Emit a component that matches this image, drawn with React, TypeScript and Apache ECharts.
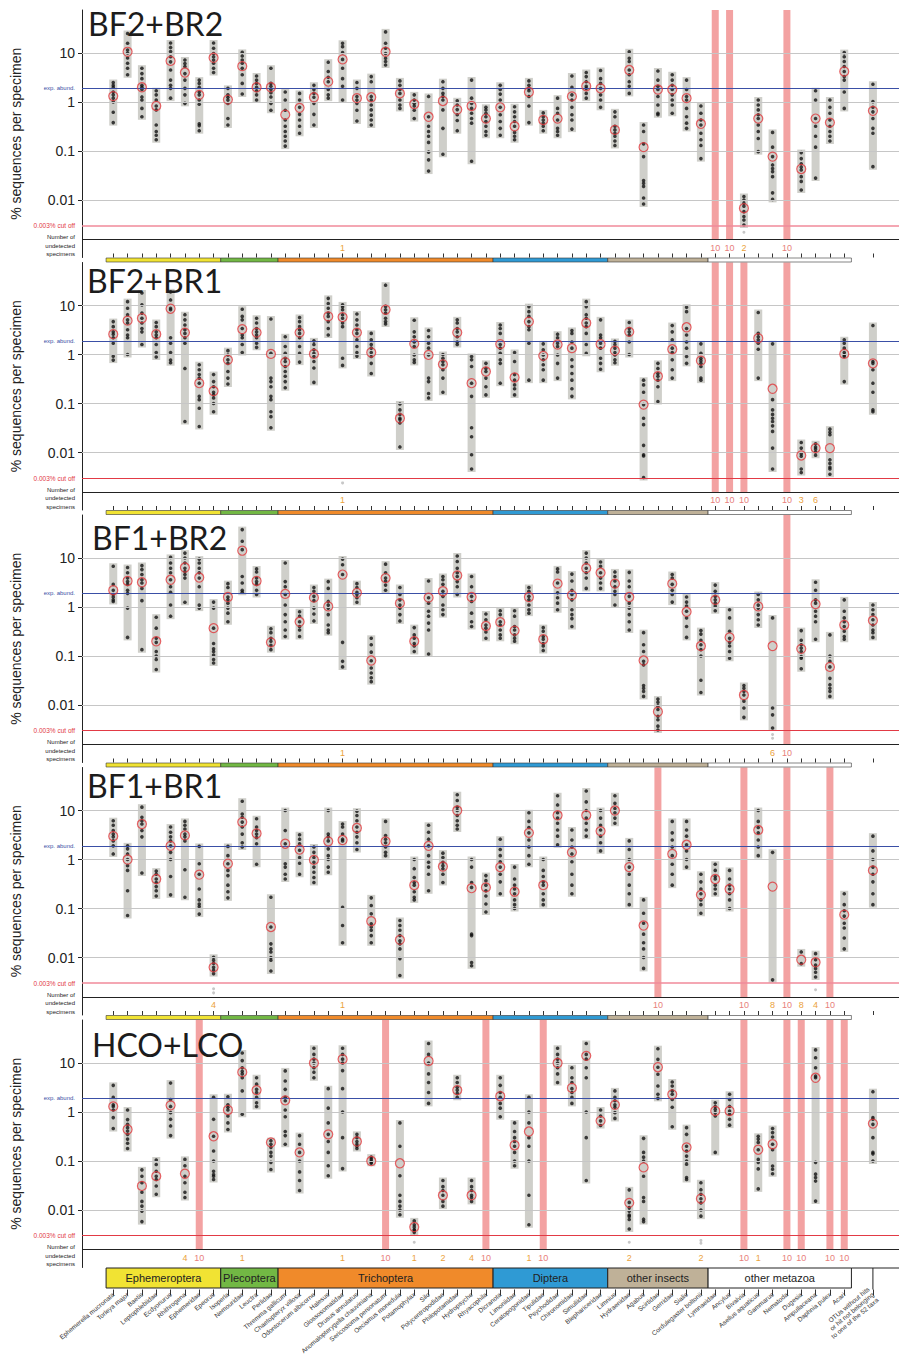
import React, { useEffect, useRef } from 'react';
import * as echarts from 'echarts';

// ---------- categories ----------
const taxa: string[] = [
  'Ephemerella mucronata', 'Torleya major', 'Baetis', 'Leptophlebiidae', 'Ecdyonurus', 'Rhithrogena', 'Ephemeridae', 'Epeorus',
  'Isoperla', 'Nemouridae', 'Leuctra', 'Perlidae',
  'Thremma gallicum', 'Chaetopteryx villosa', 'Odontocerum albicorne', 'Halesus', 'Glossosomatidae', 'Drusus annulatus',
  'Anomalopterygella chauviniana', 'Sericostoma personatum', 'Oecismus monedula', 'Potamophylax', 'Silo', 'Polycentropodidae',
  'Philopotamidae', 'Hydropsyche', 'Rhyacophila',
  'Dicranota', 'Limoniidae', 'Ceratopogonidae', 'Tipulidae', 'Psychodidae', 'Chironomidae', 'Simuliidae', 'Blephariceridae',
  'Limnius', 'Hydraenidae', 'Agabus', 'Scirtidae', 'Gerridae', 'Sialis', 'Cordulegaster boltonii',
  'Lymnaeidae', 'Ancylus', 'Bivalvia', 'Asellus aquaticus', 'Gammarus', 'Nematoda', 'Dugesia', 'Ampullaceana', 'Daphnia pulex', 'Acari',
  '', 'OTUs without hits\nor hit not belonging\nto one of the 52 taxa',
];
const groupNames = ['Ephemeroptera', 'Plecoptera', 'Trichoptera', 'Diptera', 'other insects', 'other metazoa'];
const groupStart = [0, 8, 12, 27, 35, 42];
const groupEnd = [7, 11, 26, 34, 41, 51];
const groupColors = ['#f1e333', '#72b844', '#f08a2a', '#2f9ad4', '#bfb198', '#ffffff'];

const panelTitles = ['BF2+BR2', 'BF2+BR1', 'BF1+BR2', 'BF1+BR1', 'HCO+LCO'];
const expectedAbundance = 100 / 52; // % per specimen
const cutOff = 0.003; // %
const yTickValues = [10, 1, 0.1, 0.01];

// ---------- BF2+BR2 ----------
const bf2br2Dots: number[][] = [
  [2.5, 2.2, 2.0, 1.6, 1.4, 1.2, 1.0, 0.62, 0.38], [25, 15.8, 11.5, 10, 7.9, 6.2, 4.9, 3.6], [4.9, 3.8, 3.0, 2.2, 2.0, 1.8, 1.27, 1.1, 0.74, 0.5],
  [1.7, 1.4, 1.1, 0.83, 0.69, 0.34, 0.25, 0.21, 0.17], [16, 13, 10.7, 8.4, 6.6, 4.5, 2.8, 2.2, 1.9, 1.2], [7.2, 6.1, 5.3, 3.8, 2.8, 1.9, 1.4, 0.94],
  [2.8, 2.4, 2.0, 1.6, 1.4, 1.1, 0.9, 0.36, 0.33, 0.26], [16, 12.5, 9.8, 8.4, 7.2, 6.2, 4.9, 4.0], [1.9, 1.4, 1.25, 1.1, 0.94, 0.46, 0.34],
  [10.3, 8.7, 7.2, 6.2, 4.9, 3.6, 2.4, 1.46], [3.4, 2.8, 2.4, 2.0, 1.7, 1.4, 1.1], [4.9, 2.4, 2.1, 1.8, 1.55, 1.27, 0.94, 0.68],
  [1.6, 1.1, 0.68, 0.43, 0.32, 0.25, 0.2, 0.16, 0.126], [1.5, 1.1, 0.78, 0.56, 0.43, 0.32, 0.23], [2.2, 1.8, 1.5, 1.25, 0.94, 0.56, 0.34],
  [6.5, 4.2, 3.2, 2.6, 1.8, 1.4, 1.2], [15.8, 13.5, 10.2, 7.4, 4.9, 3.0, 2.1, 1.1], [2.5, 1.9, 1.3, 1.1, 0.94, 0.68, 0.41],
  [3.3, 2.6, 1.3, 1.1, 0.87, 0.69, 0.54, 0.43, 0.34], [27, 15.8, 12.5, 9.8, 7.8, 6.7, 5.7], [2.7, 2.2, 1.8, 1.5, 1.1, 0.87, 0.74],
  [1.4, 1.1, 0.94, 0.83, 0.68, 0.46], [1.3, 0.5, 0.32, 0.25, 0.2, 0.15, 0.095, 0.066, 0.039], [2.6, 1.9, 1.5, 1.3, 1.1, 0.69, 0.29, 0.086],
  [1.06, 0.87, 0.7, 0.55, 0.42, 0.26], [2.8, 1.2, 0.94, 0.74, 0.59, 0.46, 0.37, 0.062], [0.78, 0.69, 0.59, 0.5, 0.4, 0.32, 0.25, 0.21],
  [2.2, 1.8, 1.45, 1.1, 0.78, 0.55, 0.4, 0.29, 0.21], [0.8, 0.63, 0.5, 0.4, 0.32, 0.24, 0.2, 0.17], [2.7, 2.2, 1.9, 1.7, 1.3, 0.83, 0.38],
  [0.6, 0.5, 0.43, 0.37, 0.32, 0.26], [1.2, 0.74, 0.59, 0.43, 0.29, 0.25, 0.21], [3.4, 2.0, 1.4, 1.1, 0.78, 0.55, 0.43, 0.28],
  [4.0, 3.3, 2.6, 2.1, 1.9, 1.5, 1.2], [4.4, 3.0, 2.4, 1.9, 1.4, 1.1, 0.78], [0.63, 0.5, 0.32, 0.27, 0.23, 0.2, 0.16, 0.13],
  [10.6, 7.8, 6.7, 4.5, 3.6, 2.6, 2.1, 1.5], [0.34, 0.25, 0.14, 0.077, 0.025, 0.022, 0.019, 0.011, 0.0083], [4.3, 2.8, 2.1, 1.8, 1.3, 0.87, 0.59, 0.55],
  [3.6, 2.8, 2.2, 1.8, 1.4, 1.1, 0.87, 0.59], [2.8, 1.8, 1.3, 1.1, 0.74, 0.5, 0.37, 0.29], [0.83, 0.59, 0.43, 0.34, 0.23, 0.17, 0.13, 0.07],
  [], [], [0.0118, 0.01, 0.0086, 0.0075, 0.0058, 0.0046, 0.0039, 0.0031],
  [1.1, 0.87, 0.69, 0.55, 0.46, 0.34, 0.25, 0.18, 0.097], [0.24, 0.12, 0.077, 0.052, 0.044, 0.038, 0.03, 0.014, 0.0103], [],
  [0.093, 0.07, 0.055, 0.047, 0.041, 0.03, 0.024, 0.016], [1.7, 1.1, 0.46, 0.32, 0.2, 0.12, 0.028], [1.1, 0.78, 0.59, 0.43, 0.32, 0.25, 0.2, 0.16],
  [10.2, 8.4, 6.7, 5.3, 4.2, 3.3, 2.8, 1.6, 0.74], [], [2.3, 1.02, 0.78, 0.63, 0.46, 0.29, 0.23, 0.048],
];
const bf2br2Means: (number | null)[] = [
  1.32, 10.6, 2.0, 0.83, 6.9, 4.0, 1.4, 8.0, 1.12, 5.4,
  2.0, 2.0, 0.55, 0.76, 1.25, 2.6, 7.4, 1.2, 1.25, 10.6,
  1.5, 0.91, 0.5, 1.05, 0.7, 0.83, 0.46, 0.78, 0.32, 1.6,
  0.43, 0.46, 1.3, 2.1, 1.9, 0.27, 4.5, 0.12, 1.8, 1.8,
  1.2, 0.36, null, null, 0.0068, 0.46, 0.077, null, 0.043, 0.46,
  0.38, 4.2, null, 0.66,
];
const bf2br2Undetected: [number, number][] = [[16, 1], [42, 10], [43, 10], [44, 2], [47, 10]];
const bf2br2BelowCut: [number, number][] = [[44, 0.0022]];

// ---------- BF2+BR1 ----------
const bf2br1Dots: number[][] = [
  [4.7, 3.7, 2.9, 2.6, 2.2, 1.7, 0.92, 0.77], [12, 8.8, 6.5, 5.1, 4.4, 3.2, 2.5, 2.2, 1.0], [18, 10.3, 7, 5.5, 4.4, 3.4, 2.9, 1.6],
  [4.5, 3.7, 2.9, 2.5, 2.2, 1.6, 1.1, 0.89], [19, 13, 8.8, 8.2, 2.2, 1.7, 1.1, 0.77, 0.68], [6.5, 5.1, 4, 3.2, 2.7, 2.2, 1.7, 0.52, 0.043],
  [0.62, 0.49, 0.39, 0.33, 0.26, 0.14, 0.12, 0.08, 0.034], [0.39, 0.28, 0.22, 0.17, 0.15, 0.13, 0.1, 0.068], [1.2, 0.98, 0.78, 0.66, 0.45, 0.33, 0.25],
  [8.4, 6, 5.1, 3.4, 2.5, 2.2, 1.6, 1.1], [5.5, 4.4, 3.4, 2.9, 2.5, 2.2, 1.7, 1.4], [5.3, 1.06, 0.33, 0.28, 0.22, 0.14, 0.12, 0.068, 0.054, 0.032],
  [2.3, 1.46, 1.06, 0.84, 0.72, 0.57, 0.45, 0.36, 0.28, 0.21], [5.7, 4.7, 3.7, 3.2, 2.7, 2.2, 1.46, 1.06, 0.7], [1.9, 1.6, 1.25, 1.06, 0.91, 0.72, 0.53, 0.27],
  [14, 11, 8.8, 7, 6, 4.7, 3.4, 2.5], [10.3, 9.4, 8.2, 6.5, 5.5, 4.4, 3.7, 0.84, 0.6], [6.7, 5.1, 4, 3.2, 2.7, 2, 1.46, 1.1, 0.93],
  [2.7, 2, 1.6, 1.35, 1.1, 0.91, 0.66, 0.41], [26, 9.6, 8.2, 7, 5.5, 4.7, 4.2], [0.098, 0.074, 0.06, 0.05, 0.047, 0.04, 0.013],
  [5, 2.9, 2.3, 1.8, 1.46, 0.98, 0.78, 0.69], [3.1, 2.3, 1.7, 1.35, 0.98, 0.33, 0.28, 0.16, 0.13], [1.0, 0.84, 0.72, 0.62, 0.49, 0.33, 0.17],
  [5.1, 4.4, 3.4, 2.9, 2.3, 1.8, 1.6], [0.91, 0.78, 0.57, 0.26, 0.14, 0.032, 0.021, 0.009, 0.0046], [0.66, 0.52, 0.45, 0.33, 0.22, 0.15],
  [4, 3.4, 2.7, 1.6, 1.35, 1.06, 0.78, 0.66, 0.26], [1.1, 0.72, 0.39, 0.3, 0.24, 0.2, 0.15], [9.5, 7.5, 6, 4.7, 3.7, 3.2, 1.7, 0.3],
  [1.65, 1.25, 0.98, 0.78, 0.62, 0.49, 0.3], [2.6, 2.2, 1.7, 1.46, 0.98, 0.66, 0.33], [3.1, 2.7, 1.8, 1.35, 0.78, 0.57, 0.41, 0.3, 0.2, 0.14],
  [12, 9.5, 6.5, 5.5, 4.4, 3.7, 2.7, 1.6, 1.06], [5.1, 2.5, 2.2, 1.7, 1.35, 0.84, 0.66, 0.5], [1.85, 1.6, 1.35, 1.1, 0.98, 0.78, 0.68],
  [4.5, 3.4, 2.9, 2.5, 1.8, 1.0], [0.3, 0.24, 0.17, 0.095, 0.05, 0.037, 0.014, 0.009, 0.0085, 0.0031], [0.66, 0.52, 0.41, 0.36, 0.3, 0.22, 0.11],
  [3.9, 2.9, 2, 1.35, 1.1, 0.78, 0.49, 0.33], [9.2, 7.5, 3.4, 2.5, 1.8, 1.35, 0.91, 0.66], [1.65, 1.06, 0.84, 0.75, 0.66, 0.57, 0.33, 0.3],
  [], [], [],
  [7.2, 2.7, 2.3, 2, 1.7, 1.28, 0.33], [1.65, 0.12, 0.074, 0.06, 0.05, 0.043, 0.035, 0.027, 0.0123, 0.0046], [],
  [0.016, 0.0123, 0.0094, 0.0084, 0.0046, 0.0039], [0.0151, 0.013, 0.0118, 0.0103, 0.0088], [0.03, 0.026, 0.023, 0.0071, 0.006, 0.005, 0.0046, 0.0036],
  [2.0, 1.7, 1.35, 1.1, 0.98, 0.91, 0.28], [], [3.9, 0.72, 0.66, 0.49, 0.26, 0.17, 0.074, 0.068],
];
const bf2br1Means: (number | null)[] = [
  2.6, 4.9, 5.5, 2.6, 8.6, 2.8, 0.26, 0.18, 0.78, 3.3,
  2.8, 1.03, 0.7, 2.8, 1.03, 6, 5.8, 2.8, 1.1, 8.2,
  0.05, 1.65, 0.98, 0.63, 2.8, 0.26, 0.45, 1.63, 0.34, 4.7,
  0.94, 1.6, 1.35, 4.4, 1.63, 1.2, 2.9, 0.095, 0.36, 1.28,
  3.6, 0.75, null, null, null, 2.15, 0.2, null, 0.0087, 0.0123,
  0.0123, 1.03, null, 0.66,
];
const bf2br1Undetected: [number, number][] = [[16, 1], [42, 10], [43, 10], [44, 10], [47, 10], [48, 3], [49, 6]];
const bf2br1BelowCut: [number, number][] = [[16, 0.0024]];

// ---------- BF1+BR2 ----------
const bf1br2Dots: number[][] = [
  [6.8, 2.9, 2.2, 1.8, 1.6, 1.4, 1.3], [6.4, 5, 3.9, 3.3, 2.9, 2.2, 1.9, 0.95, 0.24], [7, 5.8, 4.6, 3.6, 3.1, 2.4, 1.35, 0.135],
  [0.62, 0.37, 0.23, 0.19, 0.124, 0.1, 0.085, 0.053], [10.3, 7.9, 6.2, 5, 3.6, 2.6, 2, 1.1, 0.65], [12.6, 10, 7.9, 6.2, 5.3, 4.6, 3.9, 1.25],
  [9.5, 7.9, 6.2, 5, 3.9, 2.6, 1.1, 0.95], [1.26, 0.95, 0.37, 0.18, 0.14, 0.124, 0.105, 0.085, 0.072], [3.0, 2.5, 1.6, 1.4, 1.2, 0.95, 0.75, 0.5],
  [38, 22, 14.8, 4.2, 3.1, 2.2, 2.0], [6, 5.2, 3.9, 3.3, 2.9, 2.2, 1.8], [0.36, 0.3, 0.23, 0.2, 0.165, 0.135],
  [7.9, 3.3, 2.6, 1.8, 1.1, 0.7, 0.5, 0.34, 0.25], [0.8, 0.65, 0.5, 0.4, 0.34, 0.25], [2.5, 2.1, 1.65, 1.35, 0.95, 0.72, 0.52],
  [3.3, 2.4, 1.3, 1.1, 0.95, 0.7, 0.43, 0.34, 0.3], [9.5, 7.3, 4.6, 0.19, 0.078, 0.06], [3, 2.5, 2, 1.8, 1.55, 1.25],
  [0.23, 0.17, 0.12, 0.08, 0.057, 0.045, 0.036, 0.03], [7.5, 5, 3.9, 3.4, 2.8, 2.2], [2.5, 1.8, 1.4, 1.1, 0.95, 0.7, 0.52],
  [0.38, 0.27, 0.23, 0.18, 0.16, 0.124], [3.4, 1.55, 1.2, 0.82, 0.65, 0.47, 0.34, 0.11], [4.2, 3.6, 2.9, 2.1, 1.65, 1.1, 0.88, 0.7],
  [11, 8.5, 6.2, 5, 4.2, 3.3, 2.6, 1.8], [4.2, 2.6, 1.65, 1.3, 0.75, 0.5, 0.4], [0.72, 0.55, 0.43, 0.37, 0.31, 0.23],
  [0.84, 0.7, 0.5, 0.43, 0.34, 0.27, 0.23], [0.84, 0.65, 0.4, 0.34, 0.27, 0.23, 0.2], [2.5, 2.1, 1.65, 1.4, 1.1, 0.88, 0.75],
  [0.38, 0.32, 0.25, 0.22, 0.18, 0.16, 0.13], [6, 5.2, 3.1, 1.95, 1.55, 1.2, 0.88], [4.7, 3.4, 2.2, 1.8, 1.4, 0.88, 0.7, 0.58, 0.4],
  [12.6, 10, 7.9, 6.2, 5, 3.9, 2.4], [8.3, 6.8, 5, 3.9, 3.1, 2.4], [5.2, 4.2, 3.4, 2.6, 2.1, 1.8, 1.1],
  [5.1, 3.4, 2.6, 1.65, 1.2, 0.95, 0.7, 0.5, 0.34], [0.3, 0.17, 0.124, 0.078, 0.066, 0.025, 0.022, 0.019, 0.015], [0.0132, 0.0114, 0.0096, 0.0081, 0.0059, 0.005, 0.0037, 0.0031],
  [4.6, 3.9, 2.9, 2.2, 1.8, 1.26], [1.6, 1.26, 1.05, 0.82, 0.6, 0.4, 0.24], [0.33, 0.28, 0.21, 0.17, 0.135, 0.1, 0.032, 0.018],
  [2.8, 2.1, 1.65, 1.4, 1.2, 1.05, 0.84], [0.88, 0.6, 0.32, 0.23, 0.19, 0.16, 0.124, 0.09], [0.025, 0.022, 0.019, 0.016, 0.012, 0.0087, 0.0056],
  [1.8, 1.4, 1.1, 0.95, 0.7, 0.55, 0.43], [0.6, 0.0087, 0.0063, 0.0034], [],
  [0.33, 0.21, 0.17, 0.145, 0.124, 0.097, 0.09, 0.055], [3.2, 2.2, 1.4, 1.2, 0.82, 0.65, 0.5, 0.22], [0.27, 0.1, 0.078, 0.06, 0.035, 0.026, 0.022, 0.019, 0.015],
  [1.4, 0.82, 0.6, 0.5, 0.4, 0.32, 0.25, 0.22], [], [1.1, 0.88, 0.7, 0.55, 0.43, 0.34, 0.3, 0.24],
];
const bf1br2Means: (number | null)[] = [
  2.2, 3.4, 3.2, 0.2, 3.6, 6.4, 4.0, 0.37, 1.6, 14.1,
  3.4, 0.19, 1.85, 0.5, 1.55, 1.03, 4.6, 1.95, 0.081, 3.9,
  1.2, 0.2, 1.55, 2.1, 4.4, 1.6, 0.41, 0.49, 0.33, 1.6,
  0.22, 3.0, 1.75, 6.2, 5.0, 3.0, 1.6, 0.081, 0.0073, 3.0,
  0.8, 0.16, 1.4, 0.24, 0.016, 1.03, 0.16, null, 0.14, 1.15,
  0.06, 0.43, null, 0.53,
];
const bf1br2Undetected: [number, number][] = [[16, 1], [46, 6], [47, 10]];
const bf1br2BelowCut: [number, number][] = [[46, 0.0025], [46, 0.0021]];

// ---------- BF1+BR1 ----------
const bf1br1Dots: number[][] = [
  [6.2, 5, 3.9, 3.3, 2.9, 2.4, 1.9, 1.3], [1.9, 1.65, 1.3, 1.0, 0.75, 0.6, 0.23, 0.072], [11.7, 7.3, 6.2, 5.3, 3.9, 2.9, 0.53],
  [0.58, 0.5, 0.4, 0.34, 0.28, 0.23, 0.18], [4.6, 3.6, 2.9, 2.4, 1.9, 1.4, 1.0, 0.45, 0.19], [6, 5, 4.2, 3.3, 2.9, 2.4, 0.62, 0.17],
  [1.85, 0.82, 0.5, 0.25, 0.15, 0.124, 0.11, 0.077], [0.0101, 0.0088, 0.0076, 0.0063, 0.0055, 0.0047], [1.85, 1.2, 0.82, 0.6, 0.47, 0.3, 0.22, 0.165],
  [15.5, 8.5, 7.3, 5.8, 4.6, 3.3, 2.2, 1.8], [6.8, 4.6, 3.9, 3.3, 2.8, 2.1, 0.8], [0.17, 0.042, 0.019, 0.015, 0.013, 0.01, 0.0088, 0.0053],
  [10, 3.9, 2.1, 0.82, 0.7, 0.5, 0.4], [3.2, 2.6, 2.1, 1.55, 1.1, 0.84, 0.5], [1.8, 1.4, 1.1, 0.88, 0.7, 0.55, 0.43, 0.34],
  [10, 3.3, 2.9, 2.4, 1.65, 1.2, 1.0, 0.7, 0.55], [5.3, 4.6, 3.3, 2.6, 2.4, 0.106, 0.045, 0.02], [9.7, 7.9, 6.2, 4.6, 3.6, 2.9, 2.2, 1.6],
  [0.165, 0.115, 0.078, 0.049, 0.042, 0.036, 0.028, 0.02], [6, 3.1, 2.6, 2.2, 1.8, 1.4, 1.2], [0.057, 0.045, 0.036, 0.028, 0.022, 0.019, 0.015, 0.0095, 0.0043],
  [1.0, 0.65, 0.43, 0.34, 0.3, 0.22, 0.17, 0.15], [5, 3.6, 2.6, 1.9, 1.2, 0.88, 0.7, 0.5, 0.23], [1.35, 1.1, 0.88, 0.75, 0.65, 0.5, 0.34],
  [21, 16, 11.7, 10, 7.9, 6.2, 5, 4.2], [1.0, 0.7, 0.34, 0.27, 0.03, 0.028, 0.0079, 0.0068], [0.47, 0.37, 0.3, 0.23, 0.18, 0.124, 0.085],
  [2.6, 1.6, 1.2, 0.9, 0.7, 0.5, 0.35, 0.2], [0.7, 0.4, 0.3, 0.25, 0.2, 0.15, 0.12, 0.1], [9, 6, 4.5, 3.5, 2.5, 1.8, 1.2, 0.8],
  [1, 0.6, 0.45, 0.35, 0.3, 0.2, 0.15, 0.12], [20, 13, 9, 7, 5.5, 4, 3, 2], [4, 2.5, 1.8, 1.3, 0.9, 0.5, 0.3, 0.2],
  [25, 15, 10, 7, 5.5, 4, 3], [10, 7, 5, 4, 3, 2.2, 1.5], [20, 14, 11, 9, 7, 5.5],
  [2.4, 1.6, 1, 0.7, 0.5, 0.3, 0.2, 0.12], [0.15, 0.08, 0.05, 0.03, 0.02, 0.015, 0.01, 0.006], [],
  [6, 3.5, 2.5, 1.8, 1.2, 0.8, 0.5, 0.3], [6, 4, 3, 2, 1.5, 1, 0.7], [0.5, 0.35, 0.25, 0.2, 0.15, 0.12, 0.08],
  [0.8, 0.6, 0.45, 0.4, 0.3, 0.25, 0.2], [0.6, 0.4, 0.3, 0.25, 0.2, 0.15, 0.1], [],
  [10, 6, 4.5, 3.5, 2.5, 1.8, 1.2], [1.4, 0.0035], [],
  [0.013, 0.0075], [0.012, 0.009, 0.007, 0.006, 0.005, 0.004], [],
  [0.2, 0.12, 0.09, 0.07, 0.05, 0.04, 0.025, 0.015], [], [3, 1.5, 1, 0.7, 0.5, 0.35, 0.2, 0.12],
];
const bf1br1Means: (number | null)[] = [
  3.0, 1.0, 5.3, 0.4, 1.9, 3.1, 0.49, 0.0063, 0.82, 5.8,
  3.4, 0.042, 2.1, 1.6, 0.98, 2.35, 2.5, 4.4, 0.055, 2.35,
  0.023, 0.3, 1.9, 0.72, 10, 0.26, 0.27, 0.7, 0.22, 3.5,
  0.3, 8, 1.4, 8, 3.8, 10, 0.7, 0.045, null, 1.3,
  2, 0.19, 0.4, 0.25, null, 4, 0.28, null, 0.009, 0.008,
  null, 0.075, null, 0.6,
];
const bf1br1Undetected: [number, number][] = [[7, 4], [16, 1], [38, 10], [44, 10], [46, 8], [47, 10], [48, 8], [49, 4], [50, 10]];
const bf1br1BelowCut: [number, number][] = [[7, 0.0023], [7, 0.0019], [49, 0.0022]];

// ---------- HCO+LCO ----------
const hcoLcoDots: number[][] = [
  [3.5, 2.0, 1.4, 1.3, 1.1, 0.77, 0.46], [1.1, 0.7, 0.56, 0.48, 0.41, 0.35, 0.28, 0.23, 0.18], [0.066, 0.049, 0.036, 0.023, 0.015, 0.012, 0.0095, 0.0058],
  [0.105, 0.085, 0.062, 0.049, 0.042, 0.031, 0.021], [3.9, 1.8, 1.3, 0.97, 0.71, 0.52, 0.33], [0.108, 0.08, 0.049, 0.036, 0.023, 0.018],
  [], [2.0, 0.71, 0.32, 0.16, 0.1, 0.062, 0.053, 0.049, 0.042], [2.05, 1.4, 1.25, 1.1, 0.83, 0.6, 0.44],
  [16, 11.2, 8, 6.8, 6, 5, 2.7, 0.9], [5, 3.7, 2.9, 2.5, 2, 1.55, 1.3], [0.26, 0.22, 0.19, 0.15, 0.126, 0.094, 0.067],
  [6.9, 4.3, 2.9, 2, 1.7, 1.1, 0.8, 0.4, 0.33, 0.22], [0.33, 0.22, 0.15, 0.1, 0.06, 0.04, 0.025], [20, 15, 12, 10, 8, 6.5, 5],
  [3, 1.2, 0.6, 0.35, 0.25, 0.15, 0.08, 0.05], [20, 15, 12, 10, 7, 3, 1, 0.3, 0.07], [0.35, 0.3, 0.25, 0.22, 0.2, 0.18],
  [0.12, 0.11, 0.1, 0.095, 0.09], [], [0.6, 0.2, 0.05, 0.02, 0.015, 0.012, 0.01, 0.008],
  [0.006, 0.005, 0.0045, 0.004, 0.0038, 0.0035], [25, 15, 10, 6, 4, 2.5, 1.5], [0.04, 0.03, 0.025, 0.02, 0.015, 0.012],
  [5, 4, 3.2, 2.8, 2.4, 2], [0.04, 0.03, 0.025, 0.02, 0.018, 0.015], [],
  [5, 3.5, 2.5, 2, 1.5, 1.2, 0.8], [0.6, 0.4, 0.3, 0.25, 0.2, 0.15, 0.1, 0.08], [2, 1, 0.6, 0.3, 0.2, 0.1, 0.02, 0.005],
  [], [20, 15, 12, 10, 8, 6, 4], [8, 5, 4, 3, 2.5, 2, 1.5],
  [25, 15, 12, 8, 5, 1, 0.3, 0.04], [1.1, 0.83, 0.66, 0.53], [2.7, 2, 1.7, 1.4, 1.25, 0.97, 0.74],
  [0.0258, 0.0143, 0.0112, 0.0095, 0.0079, 0.0074, 0.0064, 0.0041], [0.29, 0.15, 0.12, 0.1, 0.049, 0.018, 0.015, 0.0065, 0.0058], [19.6, 11.9, 8.2, 5.9, 3.4, 2.3, 1.9],
  [4.1, 3.4, 2.7, 2.3, 1.8, 1.25, 0.5], [0.48, 0.35, 0.2, 0.16, 0.126, 0.1, 0.086, 0.046, 0.042], [0.036, 0.026, 0.021, 0.017, 0.014, 0.01, 0.0075],
  [1.55, 1.3, 1.13, 0.97, 0.83, 0.15], [2.3, 1.8, 1.3, 1.05, 0.9, 0.71, 0.54], [],
  [0.32, 0.28, 0.24, 0.17, 0.108, 0.094, 0.069, 0.027], [0.46, 0.38, 0.31, 0.22, 0.17, 0.079, 0.068, 0.055], [],
  [], [18.5, 12.8, 8, 5.4, 5, 0.094, 0.054, 0.046, 0.039, 0.0152], [],
  [], [], [2.6, 0.77, 0.71, 0.56, 0.3, 0.15, 0.14, 0.1],
];
const hcoLcoMeans: (number | null)[] = [
  1.3, 0.44, 0.031, 0.049, 1.37, 0.055, null, 0.32, 1.1, 6.5,
  2.8, 0.24, 1.73, 0.15, 10, 0.35, 12, 0.25, 0.1, null,
  0.09, 0.0045, 11, 0.02, 2.8, 0.02, null, 2.1, 0.21, 0.4,
  null, 10, 3.1, 14, 0.66, 1.4, 0.014, 0.074, 8.2, 2.3,
  0.19, 0.017, 1.05, 1.05, null, 0.17, 0.22, null, null, 5,
  null, null, null, 0.58,
];
const hcoLcoUndetected: [number, number][] = [
  [5, 4], [6, 10], [9, 1], [16, 1], [19, 10], [21, 1], [23, 2], [25, 4], [26, 10], [29, 1], [30, 10],
  [36, 2], [41, 2], [44, 10], [45, 1], [47, 10], [48, 10], [50, 10], [51, 10],
];
const hcoLcoBelowCut: [number, number][] = [[21, 0.0022], [36, 0.0022], [41, 0.0024], [41, 0.0021]];

const panelDots = [bf2br2Dots, bf2br1Dots, bf1br2Dots, bf1br1Dots, hcoLcoDots];
const panelMeans = [bf2br2Means, bf2br1Means, bf1br2Means, bf1br1Means, hcoLcoMeans];
const panelUndetected = [bf2br2Undetected, bf2br1Undetected, bf1br2Undetected, bf1br1Undetected, hcoLcoUndetected];
const panelBelowCut = [bf2br2BelowCut, bf2br1BelowCut, bf1br2BelowCut, bf1br1BelowCut, hcoLcoBelowCut];

// ---------- layout ----------
const LOG_MIN = -3.173;
const LOG_MAX = 1.878;
const SEP = -2.815;
const NUM_Y = -2.975;
const LABEL_ROW_Y = -2.93;
const PANEL_STEP = 252.5;
const GRID_H = 247.5;
const GRID_TOP = 10;
const GRID_LEFT = 82;
const X_MIN = -2.18;
const X_MAX = 54.82;
const titleX = [88, 87, 92, 87, 92];
const titleCapTop = [14, 271, 528, 776, 1035];

const lg = (v: number) => Math.log10(v);
const near = (a: number, b: number) => Math.abs(a - b) < 1e-6;
const tickIdx = taxa.map((t, i) => i).filter((i) => taxa[i] !== '');

function buildOption() {
  const grid: any[] = [];
  const xAxis: any[] = [];
  const yAxis: any[] = [];
  const series: any[] = [];
  const graphic: any[] = [];

  const yLabelValues = [...yTickValues.map(lg), lg(expectedAbundance), lg(cutOff), LABEL_ROW_Y];

  for (let p = 0; p < 5; p++) {
    const last = p === 4;
    grid.push({ left: GRID_LEFT, right: 0, top: GRID_TOP + PANEL_STEP * p, height: GRID_H });
    xAxis.push({
      gridIndex: p, type: 'value', min: X_MIN, max: X_MAX,
      splitLine: { show: false },
      axisLine: { show: false, onZero: false },
      offset: last ? 22 : 0,
      axisTick: { show: true, inside: !last, length: last ? 6 : 4, customValues: tickIdx, lineStyle: { color: '#333', width: 1 } },
      axisLabel: last
        ? {
            show: true, customValues: tickIdx, rotate: 40, margin: 4,
            formatter: (v: number) => taxa[Math.round(v)] || '',
            fontSize: 6.5, fontFamily: 'Liberation Sans', color: '#333', lineHeight: 7,
          }
        : { show: false },
    });
    yAxis.push({
      gridIndex: p, type: 'value', min: LOG_MIN, max: LOG_MAX,
      splitLine: { show: false },
      axisLine: { show: true, onZero: false, lineStyle: { color: '#222', width: 1 } },
      axisTick: { show: true, length: 4, customValues: yTickValues.map(lg), lineStyle: { color: '#222' } },
      axisLabel: {
        customValues: yLabelValues, margin: 7,
        formatter: (v: number) => {
          for (const t of yTickValues) if (near(v, lg(t))) return '{big|' + String(t) + '}';
          if (near(v, lg(expectedAbundance))) return '{blue|exp. abund.}';
          if (near(v, lg(cutOff))) return '{red|0.003% cut off}';
          if (near(v, LABEL_ROW_Y)) return '{small|Number of}\n{small|undetected}\n{small|specimens}';
          return '';
        },
        rich: {
          big: { fontSize: 14, fontFamily: 'Liberation Sans', color: '#222' },
          blue: { fontSize: 6, fontFamily: 'Liberation Sans', color: '#3a4fa6' },
          red: { fontSize: 6.5, fontFamily: 'Liberation Sans', color: '#e23a45' },
          small: { fontSize: 6, fontFamily: 'Liberation Sans', color: '#222', lineHeight: 8.5, align: 'right' },
        },
      },
      name: '% sequences per specimen', nameLocation: 'middle', nameGap: 57,
      nameTextStyle: { fontSize: 14, fontFamily: 'Liberation Sans', color: '#222' },
    });

    const dots = panelDots[p];
    const means = panelMeans[p];
    const und = panelUndetected[p];
    const below = panelBelowCut[p];

    const lines: any[] = [
      ...yTickValues.map((t) => ({ yAxis: lg(t), lineStyle: { color: '#c6c6c6', width: 1, type: 'solid' } })),
      { yAxis: lg(expectedAbundance), lineStyle: { color: '#3a4fa6', width: 1, type: 'solid' } },
      { yAxis: lg(cutOff), lineStyle: { color: p === 0 || p === 3 ? '#f08a9a' : '#e23a45', width: p === 0 || p === 3 ? 1.6 : 1, type: 'solid' } },
      { yAxis: SEP, lineStyle: { color: '#222', width: 1, type: 'solid' } },
    ];
    if (p === 0) lines.push({ yAxis: LOG_MAX, lineStyle: { color: '#333', width: 1.2, type: 'solid' } });

    series.push({
      type: 'scatter', xAxisIndex: p, yAxisIndex: p, data: [], z: 1,
      markLine: { silent: true, symbol: ['none', 'none'], label: { show: false }, animation: false, data: lines },
    });

    // red bars: taxa with all 10 specimens undetected
    series.push({
      type: 'custom', xAxisIndex: p, yAxisIndex: p, z: 2, clip: false,
      data: und.filter((u) => u[1] === 10).map((u) => [u[0]]),
      renderItem: (params: any, api: any) => {
        const top = api.coord([api.value(0), LOG_MAX]);
        const bot = api.coord([api.value(0), SEP]);
        return { type: 'rect', shape: { x: top[0] - 3.5, y: top[1], width: 7, height: bot[1] - top[1] }, style: { fill: '#f3a2a2' } };
      },
    });

    // gray ranges
    series.push({
      type: 'custom', xAxisIndex: p, yAxisIndex: p, z: 3, clip: false,
      data: dots.map((arr, i) => (arr.length ? [i, lg(Math.min(...arr)), lg(Math.max(...arr))] : null)).filter((d) => d),
      renderItem: (params: any, api: any) => {
        const hi = api.coord([api.value(0), api.value(2)]);
        const lo = api.coord([api.value(0), api.value(1)]);
        return { type: 'rect', shape: { x: hi[0] - 4, y: hi[1] - 3, width: 8, height: lo[1] - hi[1] + 6 }, style: { fill: '#cfcfca' } };
      },
    });

    // specimens
    series.push({
      type: 'scatter', xAxisIndex: p, yAxisIndex: p, z: 4, symbolSize: 3.6,
      itemStyle: { color: '#111' },
      data: dots.flatMap((arr, i) => arr.map((v) => [i, lg(v)])),
    });
    series.push({
      type: 'scatter', xAxisIndex: p, yAxisIndex: p, z: 4, symbolSize: 3,
      itemStyle: { color: '#b9b9b9' },
      data: below.map((b) => [b[0], lg(b[1])]),
    });
    // means
    series.push({
      type: 'scatter', xAxisIndex: p, yAxisIndex: p, z: 5, symbolSize: 9,
      itemStyle: { color: 'rgba(0,0,0,0)', borderColor: '#e0383c', borderWidth: 1.2 },
      data: means.map((m, i) => (m === null ? null : [i, lg(m)])).filter((d) => d),
    });
    // undetected counts
    series.push({
      type: 'custom', xAxisIndex: p, yAxisIndex: p, z: 6, clip: false,
      data: und.map((u) => [u[0], u[1]]),
      renderItem: (params: any, api: any) => {
        const pt = api.coord([api.value(0), NUM_Y]);
        const n = api.value(1);
        return {
          type: 'text', x: pt[0], y: pt[1],
          style: { text: String(n), fill: n === 10 ? '#e8807c' : '#eba23c', fontSize: 9, fontFamily: 'Liberation Sans', align: 'center', verticalAlign: 'middle' },
        };
      },
    });
    // taxonomic group strip / boxes
    series.push({
      type: 'custom', xAxisIndex: p, yAxisIndex: p, z: 7, clip: false,
      data: groupNames.map((g, k) => [groupStart[k], groupEnd[k], k]),
      renderItem: (params: any, api: any) => {
        const k = api.value(2);
        const a = api.coord([api.value(0) - 0.5, LOG_MIN]);
        const b = api.coord([api.value(1) + 0.5, LOG_MIN]);
        if (!last) {
          return { type: 'rect', shape: { x: a[0], y: a[1] + 0.5, width: b[0] - a[0], height: 4 }, style: { fill: groupColors[k], stroke: '#333', lineWidth: 0.6 } };
        }
        return {
          type: 'group',
          children: [
            { type: 'rect', shape: { x: a[0], y: a[1] + 0.5, width: b[0] - a[0], height: 20 }, style: { fill: groupColors[k], stroke: '#222', lineWidth: 1 } },
            { type: 'text', x: (a[0] + b[0]) / 2, y: a[1] + 10.5, style: { text: groupNames[k], fill: '#222', fontSize: 11, fontFamily: 'Liberation Sans', align: 'center', verticalAlign: 'middle' } },
          ],
        };
      },
    });
    if (last) {
      series.push({
        type: 'custom', xAxisIndex: p, yAxisIndex: p, z: 7, clip: false,
        data: [[53]],
        renderItem: (params: any, api: any) => {
          const a = api.coord([api.value(0), LOG_MIN]);
          const l = api.coord([51.5, LOG_MIN]);
          return {
            type: 'group',
            children: [
              { type: 'line', shape: { x1: a[0], y1: a[1] + 0.5, x2: a[0], y2: a[1] + 22 }, style: { stroke: '#222', lineWidth: 1 } },
              { type: 'line', shape: { x1: l[0], y1: a[1] + 0.5, x2: 899, y2: a[1] + 0.5 }, style: { stroke: '#222', lineWidth: 1 } },
            ],
          };
        },
      });
    }

    graphic.push({
      type: 'text', x: titleX[p], y: titleCapTop[p] - 7, z: 20,
      style: { text: panelTitles[p], fontSize: 32, fontFamily: 'Lato', fill: '#1c1c1c', verticalAlign: 'top' },
    });
  }

  return { animation: false, backgroundColor: '#ffffff', grid, xAxis, yAxis, series, graphic };
}

export default function App() {
  const ref = useRef<HTMLDivElement>(null);
  useEffect(() => {
    document.body.style.margin = '0';
    const chart = echarts.init(ref.current as HTMLDivElement, undefined, { renderer: 'svg' });
    chart.setOption(buildOption() as any);
    return () => chart.dispose();
  }, []);
  return <div ref={ref} style={{ width: 899, height: 1371 }} />;
}
